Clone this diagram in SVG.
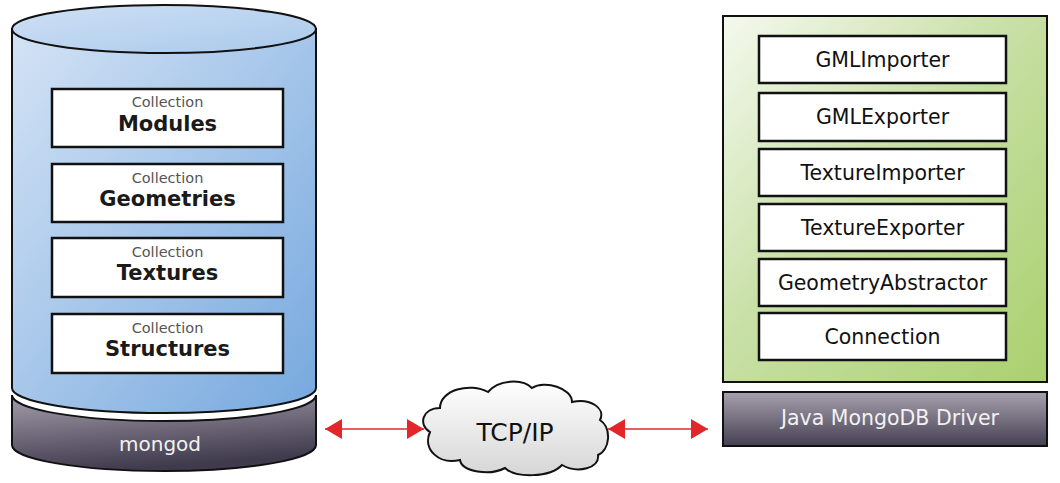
<svg xmlns="http://www.w3.org/2000/svg" width="1060" height="483" viewBox="0 0 1060 483">
<defs>
<linearGradient id="gBlue" x1="0" y1="0" x2="1" y2="1">
<stop offset="0" stop-color="#d4e3f5"/>
<stop offset="1" stop-color="#76a8de"/>
</linearGradient>
<linearGradient id="gTop" x1="0" y1="0" x2="1" y2="1">
<stop offset="0" stop-color="#cfe0f4"/>
<stop offset="1" stop-color="#a9c9ec"/>
</linearGradient>
<linearGradient id="gGray" x1="0" y1="0" x2="0.3" y2="1">
<stop offset="0" stop-color="#a39dab"/>
<stop offset="1" stop-color="#3f3a4c"/>
</linearGradient>
<linearGradient id="gDrv" x1="0" y1="0" x2="0" y2="1">
<stop offset="0" stop-color="#a7a1ae"/>
<stop offset="1" stop-color="#454052"/>
</linearGradient>
<linearGradient id="gGreen" x1="0" y1="0" x2="1" y2="1">
<stop offset="0" stop-color="#f5f9ef"/>
<stop offset="0.45" stop-color="#c8e0a6"/>
<stop offset="1" stop-color="#aad06e"/>
</linearGradient>
<linearGradient id="gCloud" x1="0" y1="0" x2="0" y2="1">
<stop offset="0" stop-color="#ffffff"/>
<stop offset="1" stop-color="#d6d6d6"/>
</linearGradient>
<marker id="ah" viewBox="0 0 17 20" refX="17" refY="10" markerUnits="userSpaceOnUse" markerWidth="17" markerHeight="20" orient="auto-start-reverse">
<path d="M0,0 L17,10 L0,20 Z" fill="#e3262a"/>
</marker>
</defs>
<style>
.box{fill:#fff;stroke:#111;stroke-width:2.5}
.coll{font-family:"DejaVu Sans",Verdana,sans-serif;font-size:14.5px;fill:#555;text-anchor:middle}
.name{font-family:"DejaVu Sans",Verdana,sans-serif;font-size:21px;font-weight:bold;fill:#1a1a1a;text-anchor:middle}
.cls{font-family:"DejaVu Sans",Verdana,sans-serif;font-size:20.5px;fill:#111;text-anchor:middle}
.wt{font-family:"DejaVu Sans",Verdana,sans-serif;fill:#f2f2f2;text-anchor:middle}
.arr{stroke:#e3262a;stroke-width:1.5;fill:none}
</style>
<g id="mongod-db">
<path d="M12,395 A152,26 0 0 0 316,395 L316,445 A152,26 0 0 1 12,445 Z" fill="url(#gGray)" stroke="#111" stroke-width="2"/>
<path d="M12,29 L12,388 A152,25 0 0 0 316,388 L316,29 Z" fill="url(#gBlue)" stroke="#111" stroke-width="2"/>
<ellipse cx="164" cy="29" rx="152" ry="24" fill="url(#gTop)" stroke="#111" stroke-width="2"/>
<text class="wt" x="160" y="451" font-size="20">mongod</text>
</g>
<g id="coll-modules">
<rect class="box" x="52" y="89" width="231" height="58"/>
<text class="coll" x="167.5" y="107">Collection</text>
<text class="name" x="167.5" y="131">Modules</text>
</g>
<g id="coll-geometries">
<rect class="box" x="52" y="164" width="231" height="58"/>
<text class="coll" x="167.5" y="183">Collection</text>
<text class="name" x="167.5" y="206">Geometries</text>
</g>
<g id="coll-textures">
<rect class="box" x="52" y="238" width="231" height="59"/>
<text class="coll" x="167.5" y="257">Collection</text>
<text class="name" x="167.5" y="280">Textures</text>
</g>
<g id="coll-structures">
<rect class="box" x="52" y="314" width="231" height="59"/>
<text class="coll" x="167.5" y="333">Collection</text>
<text class="name" x="167.5" y="356">Structures</text>
</g>
<g id="tcpip">
<path d="M430,432 C418,425 422,408 440,408 C440,390 470,382 488,392 C498,380 522,378 532,388 C545,380 572,388 572,402 C590,398 606,408 600,420 C612,428 610,450 598,455 C600,468 578,474 562,465 C550,478 515,478 505,468 C490,476 462,472 460,460 C440,465 422,450 430,432 Z" fill="url(#gCloud)" stroke="#111" stroke-width="2"/>
<text x="515" y="441" font-family="DejaVu Sans,Verdana,sans-serif" font-size="25" fill="#111" text-anchor="middle">TCP/IP</text>
</g>
<g id="app">
<rect x="723" y="16" width="324" height="366" fill="url(#gGreen)" stroke="#111" stroke-width="2"/>
</g>
<g id="GMLImporter"><rect class="box" x="759" y="36" width="247" height="47"/><text class="cls" x="882.5" y="67">GMLImporter</text></g>
<g id="GMLExporter"><rect class="box" x="759" y="93" width="247" height="48"/><text class="cls" x="882.5" y="124">GMLExporter</text></g>
<g id="TextureImporter"><rect class="box" x="759" y="149" width="247" height="47"/><text class="cls" x="882.5" y="180">TextureImporter</text></g>
<g id="TextureExporter"><rect class="box" x="759" y="204" width="247" height="47"/><text class="cls" x="882.5" y="235">TextureExporter</text></g>
<g id="GeometryAbstractor"><rect class="box" x="759" y="259" width="247" height="47"/><text class="cls" x="882.5" y="290">GeometryAbstractor</text></g>
<g id="Connection"><rect class="box" x="759" y="313" width="247" height="47"/><text class="cls" x="882.5" y="344">Connection</text></g>
<g id="driver">
<rect x="723" y="392" width="324" height="54" fill="url(#gDrv)" stroke="#111" stroke-width="2"/>
<text class="wt" x="890" y="425" font-size="20.5">Java MongoDB Driver</text>
</g>
<g id="connectors">
<line class="arr" x1="325" y1="429" x2="424" y2="429" marker-start="url(#ah)" marker-end="url(#ah)"/>
<line class="arr" x1="608" y1="429" x2="708" y2="429" marker-start="url(#ah)" marker-end="url(#ah)"/>
</g>
</svg>
